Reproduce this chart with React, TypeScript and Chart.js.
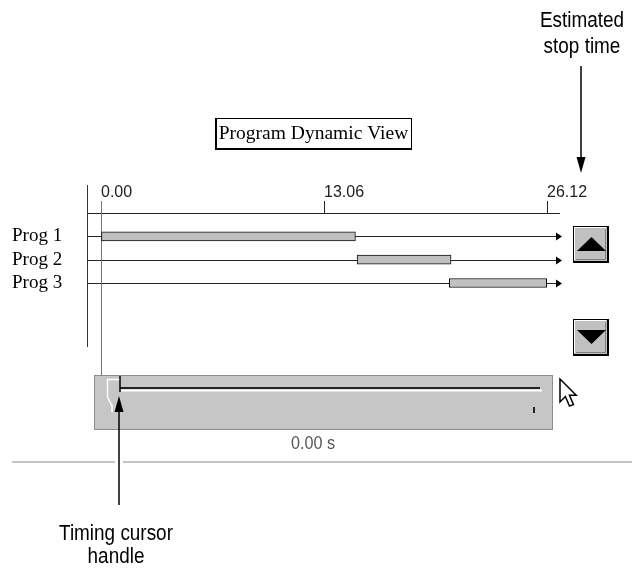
import React, { useEffect, useRef } from 'react';
import { Chart, registerables } from 'chart.js';

Chart.register(...registerables);

const programs = ['Prog 1', 'Prog 2', 'Prog 3'];
const startTimes = [0, 15.0, 20.4];
const endTimes = [14.9, 20.5, 26.1];
const tickValues = [0, 13.06, 26.12];
const maxTime = 26.12;
const cursorTime = 0;
const titleText = 'Program Dynamic View';
const cursorLabel = '0.00 s';
const stopNote = ['Estimated', 'stop time'];
const cursorNote = ['Timing cursor', 'handle'];

const SANS = '"Liberation Sans", Arial, sans-serif';
const SERIF = '"Liberation Serif", "Times New Roman", serif';

function arrowHead(ctx: CanvasRenderingContext2D, x: number, y: number, dir: 'up' | 'down' | 'right', len: number, half: number) {
  ctx.beginPath();
  if (dir === 'up') {
    ctx.moveTo(x, y); ctx.lineTo(x - half, y + len); ctx.lineTo(x + half, y + len);
  } else if (dir === 'down') {
    ctx.moveTo(x, y); ctx.lineTo(x - half, y - len); ctx.lineTo(x + half, y - len);
  } else {
    ctx.moveTo(x, y); ctx.lineTo(x - len, y - half); ctx.lineTo(x - len, y + half);
  }
  ctx.closePath();
  ctx.fill();
}

function narrowText(ctx: CanvasRenderingContext2D, text: string, cx: number, baseline: number, size: number, sx: number, color: string) {
  ctx.save();
  ctx.translate(cx, baseline);
  ctx.scale(sx, 1);
  ctx.font = `${size}px ${SANS}`;
  ctx.fillStyle = color;
  ctx.textAlign = 'center';
  ctx.textBaseline = 'alphabetic';
  ctx.fillText(text, 0, 0);
  ctx.restore();
}

const decorPlugin = {
  id: 'decor',
  beforeDatasetsDraw(chart: any) {
    const ctx: CanvasRenderingContext2D = chart.ctx;
    const xs = chart.scales.x;
    const ys = chart.scales.y;
    const area = chart.chartArea;
    const leftLine = area.left - 14;
    const rowEnd = xs.getPixelForValue(maxTime) + 10;
    ctx.save();
    ctx.strokeStyle = '#222';
    ctx.lineWidth = 1;
    ctx.beginPath();
    ctx.moveTo(leftLine, area.top + 0.5);
    ctx.lineTo(rowEnd + 3, area.top + 0.5);
    ctx.stroke();
    ctx.strokeStyle = '#333';
    ctx.beginPath();
    ctx.moveTo(leftLine + 0.5, 185);
    ctx.lineTo(leftLine + 0.5, 347);
    ctx.stroke();
    ctx.fillStyle = '#000';
    programs.forEach((_, i) => {
      const y = Math.round(ys.getPixelForValue(i + 1)) + 0.5;
      ctx.strokeStyle = '#222';
      ctx.beginPath();
      ctx.moveTo(leftLine, y);
      ctx.lineTo(rowEnd, y);
      ctx.stroke();
      arrowHead(ctx, rowEnd + 5, y, 'right', 6, 4);
    });
    const cx = Math.round(xs.getPixelForValue(cursorTime)) + 0.5;
    ctx.strokeStyle = '#777';
    ctx.beginPath();
    ctx.moveTo(cx, 201);
    ctx.lineTo(cx, 375);
    ctx.stroke();
    ctx.restore();
  },
  afterDraw(chart: any) {
    const ctx: CanvasRenderingContext2D = chart.ctx;
    const xs = chart.scales.x;
    ctx.save();

    // title box
    ctx.fillStyle = '#fff';
    ctx.fillRect(215, 118, 197, 31);
    ctx.strokeStyle = '#000';
    ctx.lineWidth = 1;
    ctx.strokeRect(215.5, 118.5, 196, 30);
    ctx.lineWidth = 2;
    ctx.beginPath();
    ctx.moveTo(216, 118); ctx.lineTo(216, 149); ctx.lineTo(412, 149);
    ctx.stroke();
    ctx.fillStyle = '#000';
    ctx.font = `19.5px ${SERIF}`;
    ctx.textAlign = 'center';
    ctx.textBaseline = 'middle';
    ctx.fillText(titleText, 313.5, 134);

    // scroll buttons
    const drawButton = (y: number, up: boolean) => {
      const x = 573, w = 36, h = 37;
      ctx.fillStyle = '#c0c0c0';
      ctx.fillRect(x, y, w, h);
      ctx.strokeStyle = '#000';
      ctx.lineWidth = 1;
      ctx.strokeRect(x + 0.5, y + 0.5, w - 1, h - 1);
      ctx.lineWidth = 2;
      ctx.beginPath();
      ctx.moveTo(x + w - 1, y + 1); ctx.lineTo(x + w - 1, y + h - 1); ctx.lineTo(x + 1, y + h - 1);
      ctx.stroke();
      ctx.strokeStyle = '#fff';
      ctx.lineWidth = 1;
      ctx.beginPath();
      ctx.moveTo(x + 1.5, y + h - 3); ctx.lineTo(x + 1.5, y + 1.5); ctx.lineTo(x + w - 3, y + 1.5);
      ctx.stroke();
      ctx.strokeStyle = '#808080';
      ctx.beginPath();
      ctx.moveTo(x + w - 3.5, y + 3); ctx.lineTo(x + w - 3.5, y + h - 3.5); ctx.lineTo(x + 3, y + h - 3.5);
      ctx.stroke();
      ctx.fillStyle = '#000';
      ctx.beginPath();
      if (up) {
        ctx.moveTo(x + 4, y + 25); ctx.lineTo(x + 33, y + 25); ctx.lineTo(x + 18.5, y + 11);
      } else {
        ctx.moveTo(x + 4, y + 11); ctx.lineTo(x + 33, y + 11); ctx.lineTo(x + 18.5, y + 25);
      }
      ctx.closePath();
      ctx.fill();
    };
    drawButton(226, true);
    drawButton(319, false);

    // slider panel
    ctx.fillStyle = '#c6c6c6';
    ctx.fillRect(94, 375, 459, 55);
    ctx.strokeStyle = '#555';
    ctx.lineWidth = 1;
    ctx.setLineDash([1, 1]);
    ctx.strokeRect(94.5, 375.5, 458, 54);
    ctx.setLineDash([]);
    const trackStart = 120;
    const trackEnd = 540;
    ctx.strokeStyle = '#fff';
    ctx.lineWidth = 2;
    ctx.beginPath();
    ctx.moveTo(trackStart, 390.5); ctx.lineTo(trackEnd + 2, 390.5);
    ctx.stroke();
    ctx.strokeStyle = '#222';
    ctx.lineWidth = 2;
    ctx.beginPath();
    ctx.moveTo(trackStart, 388); ctx.lineTo(trackEnd, 388);
    ctx.stroke();
    ctx.fillStyle = '#222';
    ctx.fillRect(533, 407, 2, 6);
    // handle
    ctx.strokeStyle = '#fff';
    ctx.lineWidth = 1.5;
    ctx.beginPath();
    ctx.moveTo(107.5, 397); ctx.lineTo(107.5, 379.5); ctx.lineTo(120, 379.5);
    ctx.moveTo(107.5, 397); ctx.lineTo(112, 406); ctx.lineTo(112, 412);
    ctx.stroke();
    ctx.strokeStyle = '#000';
    ctx.lineWidth = 1.5;
    ctx.beginPath();
    ctx.moveTo(120, 376); ctx.lineTo(120, 392);
    ctx.stroke();

    // mouse pointer icon
    const px = 560, py = 379, s = 1.35;
    const pts = [[0, 0], [0, 17], [4, 13], [7, 20], [10, 19], [7, 12], [12, 12]];
    ctx.beginPath();
    pts.forEach(([a, b], i) => {
      const X = px + a * s, Y = py + b * s;
      if (i === 0) ctx.moveTo(X, Y); else ctx.lineTo(X, Y);
    });
    ctx.closePath();
    ctx.fillStyle = '#fff';
    ctx.fill();
    ctx.strokeStyle = '#000';
    ctx.lineWidth = 1.5;
    ctx.stroke();

    // slider value label
    narrowText(ctx, cursorLabel, 313, 449, 19, 0.85, '#555');

    // separator
    ctx.fillStyle = '#c4c4c4';
    ctx.fillRect(12, 461, 620, 2);

    // timing cursor annotation arrow
    ctx.fillStyle = '#fff';
    ctx.fillRect(115, 459, 8, 6);
    ctx.strokeStyle = '#000';
    ctx.lineWidth = 1.5;
    ctx.beginPath();
    ctx.moveTo(119, 408); ctx.lineTo(119, 505);
    ctx.stroke();
    ctx.fillStyle = '#000';
    arrowHead(ctx, 119, 396, 'up', 16, 4.5);

    // estimated stop time arrow
    const stopX = Math.round(xs.getPixelForValue(maxTime)) + 34;
    ctx.beginPath();
    ctx.moveTo(stopX, 66); ctx.lineTo(stopX, 160);
    ctx.stroke();
    arrowHead(ctx, stopX, 173, 'down', 16, 4.5);

    // annotation texts
    narrowText(ctx, stopNote[0], 582, 27, 22, 0.86, '#000');
    narrowText(ctx, stopNote[1], 582, 53, 22, 0.86, '#000');
    narrowText(ctx, cursorNote[0], 116, 540, 22, 0.86, '#000');
    narrowText(ctx, cursorNote[1], 116, 563, 22, 0.86, '#000');

    ctx.restore();
  },
};

export default function App() {
  const ref = useRef<HTMLCanvasElement | null>(null);
  useEffect(() => {
    if (!ref.current) return;
    const chart = new Chart(ref.current, {
      type: 'bar',
      data: {
        labels: ['', ...programs],
        datasets: [
          {
            data: [null, ...programs.map((_, i) => [startTimes[i], endTimes[i]])] as any,
            backgroundColor: '#c0c0c0',
            borderColor: '#111',
            borderWidth: 1,
            borderSkipped: false,
            barThickness: 9,
            clip: false as any,
          },
        ],
      },
      options: {
        indexAxis: 'y',
        responsive: false,
        animation: false,
        events: [],
        layout: { padding: { left: 12, right: 85, top: 0, bottom: 286 } },
        plugins: { legend: { display: false }, tooltip: { enabled: false }, title: { display: false } },
        scales: {
          x: {
            type: 'linear',
            position: 'top',
            min: 0,
            max: maxTime,
            afterBuildTicks: (scale: any) => {
              scale.ticks = tickValues.map((v) => ({ value: v }));
            },
            afterFit: (scale: any) => {
              scale.height = 213;
              scale.paddingLeft = 0;
              scale.paddingRight = 0;
            },
            ticks: {
              align: 'start',
              padding: 0,
              color: '#222',
              font: { family: SANS, size: 16, lineHeight: 1 },
              callback: (v: any) => Number(v).toFixed(2),
            },
            grid: { drawOnChartArea: false, drawTicks: true, tickLength: 12, color: '#222', lineWidth: 1 },
            border: { display: false },
          },
          y: {
            type: 'category',
            offset: false,
            afterFit: (scale: any) => {
              scale.width = 89;
              scale.paddingTop = 0;
              scale.paddingBottom = 0;
            },
            ticks: {
              crossAlign: 'far',
              padding: 0,
              color: '#000',
              font: { family: SERIF, size: 19 },
              autoSkip: false,
            },
            grid: { display: false },
            border: { display: false },
          },
        },
      },
      plugins: [decorPlugin],
    });
    return () => chart.destroy();
  }, []);
  return (
    <div style={{ position: 'absolute', left: 0, top: 0, width: 632, height: 569, background: '#fff' }}>
      <canvas ref={ref} width={632} height={569} style={{ width: 632, height: 569, display: 'block' }} />
    </div>
  );
}
